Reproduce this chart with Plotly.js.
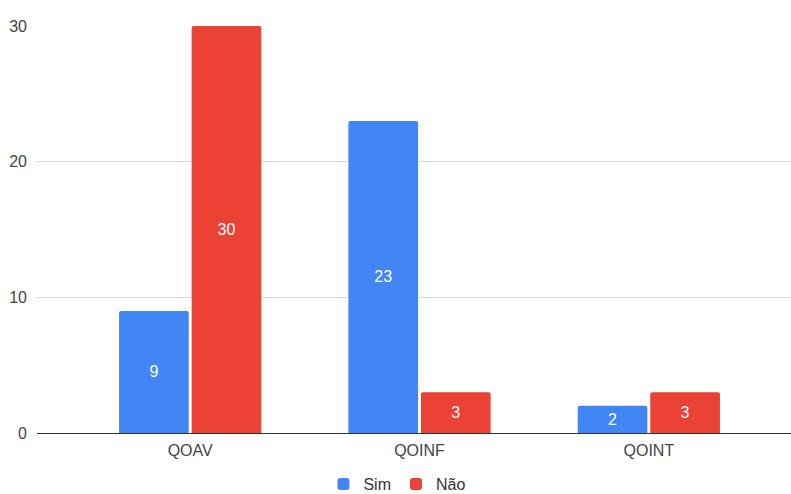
<!DOCTYPE html>
<html>
<head>
<meta charset="utf-8">
<script src="https://cdn.plot.ly/plotly-3.0.1.min.js"></script>
<style>html,body{margin:0;padding:0;background:#fff;}#chart{width:791px;height:494px;}</style>
</head>
<body>
<div id="chart"></div>
<script>
const categories = ["QOAV", "QOINF", "QOINT"];
const simValues = [9, 23, 2];
const naoValues = [30, 3, 3];
const seriesNames = ["Sim", "Não"];
const tickValues = [0, 10, 20, 30];

const FONT = "Arimo, 'Liberation Sans', Arial, sans-serif";

const common = {
  type: "bar",
  textposition: "inside",
  insidetextanchor: "middle",
  textangle: 0,
  insidetextfont: {family: FONT, size: 16, color: "#ffffff"},
  hoverinfo: "none",
  cliponaxis: false
};

const traces = [
  Object.assign({}, common, {
    name: seriesNames[0], x: categories, y: simValues,
    text: simValues.map(String),
    marker: {color: "#4285F4", line: {color: "#ffffff", width: 0}}
  }),
  Object.assign({}, common, {
    name: seriesNames[1], x: categories, y: naoValues,
    text: naoValues.map(String),
    marker: {color: "#EA4335", line: {color: "#ffffff", width: 0}}
  })
];

const layout = {
  width: 791, height: 494,
  margin: {l: 37, r: 0, t: 26, b: 61, pad: 0, autoexpand: false},
  paper_bgcolor: "#ffffff", plot_bgcolor: "#ffffff",
  font: {family: FONT, size: 16, color: "#444444"},
  barmode: "group",
  bargap: 0.367,
  bargroupgap: 0.04,
  barcornerradius: 2,
  showlegend: true,
  legend: {orientation: "h", x: 0.478, xref: "paper", xanchor: "center",
           y: 0.02, yref: "container", yanchor: "middle",
           font: {size: 16, color: "#333333"}, itemwidth: 30, traceorder: "normal"},
  xaxis: {
    type: "category", range: [-0.668, 2.62],
    showgrid: false, zeroline: false, showline: false,
    ticks: "", tickfont: {size: 16, color: "#444444"}, ticklabelstandoff: 6,
    automargin: false
  },
  yaxis: {
    range: [0, 30], tickvals: tickValues, ticktext: tickValues.map(String),
    showgrid: true, gridcolor: "#d9d9d9", gridwidth: 1,
    zeroline: true, zerolinecolor: "#333333", zerolinewidth: 1,
    showline: false, ticks: "", ticklabelstandoff: 9,
    tickfont: {size: 16, color: "#444444"}, automargin: false
  }
};

Plotly.newPlot("chart", traces, layout, {displayModeBar: false, staticPlot: true});
</script>
</body>
</html>
